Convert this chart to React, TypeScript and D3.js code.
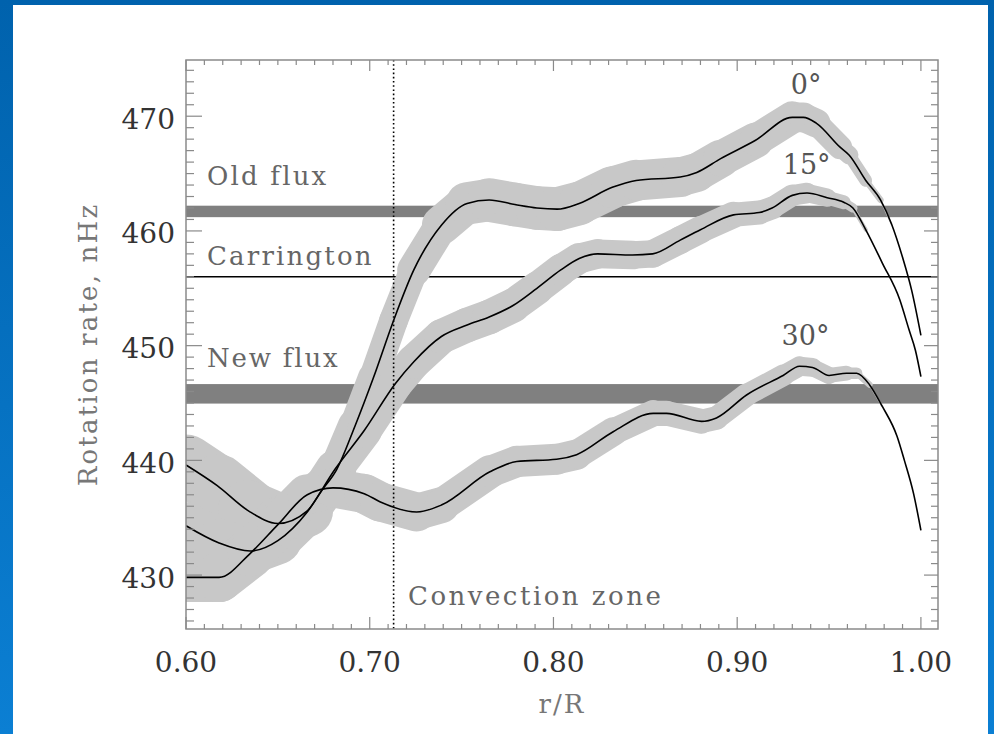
import React from 'react';
import * as d3 from 'd3';

// ---- data ----
const R_0 = [0.600, 0.617, 0.634, 0.650, 0.666, 0.674, 0.682, 0.692, 0.702, 0.713, 0.724, 0.739, 0.753, 0.765, 0.779, 0.791, 0.802, 0.814, 0.832, 0.845, 0.869, 0.878, 0.891, 0.910, 0.930, 0.936, 0.943, 0.956, 0.961, 0.970, 0.978, 0.984, 0.990, 0.995, 1.000];
const V_0 = [439.6, 437.8, 435.6, 434.5, 435.6, 437.4, 439.2, 443.0, 447.2, 452.2, 456.6, 460.5, 462.4, 462.7, 462.3, 462.0, 461.9, 462.4, 463.8, 464.4, 464.7, 465.1, 466.3, 467.9, 469.9, 469.9, 469.4, 467.3, 466.6, 464.4, 462.7, 460.6, 457.7, 454.8, 450.9];
const E_0 = [2.6, 2.7, 2.8, 2.5, 2.0, 1.8, 1.6, 1.4, 1.3, 1.2, 1.3, 1.6, 1.8, 1.9, 1.9, 1.9, 1.9, 1.9, 1.8, 1.8, 1.7, 1.7, 1.6, 1.5, 1.3, 1.3, 1.2, 0.9, 0.7, 0.4, 0.15, 0, 0, 0, 0];

const R_15 = [0.600, 0.618, 0.635, 0.650, 0.666, 0.681, 0.697, 0.714, 0.724, 0.739, 0.753, 0.765, 0.778, 0.791, 0.804, 0.814, 0.824, 0.843, 0.854, 0.869, 0.880, 0.898, 0.912, 0.919, 0.930, 0.938, 0.949, 0.958, 0.963, 0.970, 0.979, 0.9885, 0.9935, 0.997, 1.000];
const V_15 = [434.3, 432.8, 432.1, 433.0, 435.5, 439.2, 442.6, 446.7, 448.6, 450.8, 451.8, 452.5, 453.5, 455.0, 456.6, 457.6, 458.0, 457.9, 458.0, 459.2, 460.1, 461.4, 461.6, 462.0, 463.1, 463.3, 462.9, 462.5, 462.0, 460.1, 457.2, 454.0, 451.4, 449.6, 447.3];
const E_15 = [2.0, 2.1, 2.1, 2.0, 1.8, 1.6, 1.5, 1.5, 1.5, 1.5, 1.5, 1.5, 1.5, 1.4, 1.4, 1.3, 1.3, 1.2, 1.2, 1.2, 1.2, 1.1, 1.0, 1.0, 0.9, 0.9, 0.7, 0.5, 0.3, 0.05, 0, 0, 0, 0, 0];

const R_30 = [0.600, 0.618, 0.635, 0.650, 0.666, 0.680, 0.697, 0.7055, 0.7255, 0.739, 0.7654, 0.780, 0.8017, 0.8126, 0.8325, 0.8543, 0.8615, 0.8806, 0.8887, 0.9051, 0.925, 0.934, 0.941, 0.950, 0.9595, 0.965, 0.972, 0.979, 0.987, 0.991, 0.996, 1.000];
const V_30 = [429.8, 429.8, 431.9, 434.4, 437.0, 437.6, 437.1, 436.4, 435.5, 436.1, 439.0, 439.9, 440.1, 440.5, 442.5, 444.1, 444.1, 443.4, 443.7, 445.7, 447.4, 448.2, 448.1, 447.4, 447.6, 447.6, 446.6, 444.7, 442.1, 440.0, 437.1, 433.9];
const E_30 = [2.1, 2.2, 2.1, 1.9, 1.7, 1.7, 1.7, 1.75, 1.65, 1.5, 1.4, 1.35, 1.35, 1.3, 1.2, 1.1, 1.1, 1.05, 1.0, 1.0, 0.9, 0.85, 0.8, 0.7, 0.6, 0.4, 0.15, 0, 0, 0, 0, 0];

const LATITUDES = ['0°', '15°', '30°'];

const X_TICKS = [0.6, 0.7, 0.8, 0.9, 1.0];
const X_TICK_LABELS = ['0.60', '0.70', '0.80', '0.90', '1.00'];
const Y_TICKS = [430, 440, 450, 460, 470];

const CARRINGTON = 456.0;
const OLD_FLUX = 461.7;
const OLD_FLUX_HALF = 0.5;
const NEW_FLUX = 445.8;
const NEW_FLUX_HALF = 0.85;
const CZ_BASE = 0.713;

const FONT = '"DejaVu Serif", serif';

export default function App() {
  const W = 994, H = 734;
  const L = 186, Rr = 938, T = 60, B = 629;
  const x = d3.scaleLinear().domain([0.6, 1.0093]).range([L, Rr]);
  const y = d3.scaleLinear().domain([425.3, 474.9]).range([B, T]);
  const ppu = y(450) - y(451);

  const series = [
    { r: R_0, v: V_0, e: E_0, label: LATITUDES[0], lab: [0.9375, 471.94] },
    { r: R_15, v: V_15, e: E_15, label: LATITUDES[1], lab: [0.9378, 464.96] },
    { r: R_30, v: V_30, e: E_30, label: LATITUDES[2], lab: [0.9372, 450.06] },
  ];

  const line = d3.line<number>()
    .x((_, i, arr) => 0)
    .curve(d3.curveMonotoneX);

  const pathFor = (s: { r: number[]; v: number[] }) =>
    d3.line<[number, number]>()
      .x((d) => x(d[0]))
      .y((d) => y(d[1]))
      .curve(d3.curveMonotoneX)(s.r.map((r, i) => [r, s.v[i]] as [number, number])) || '';

  const minorX = d3.range(0, 41).map((i) => 0.6 + i * 0.01);
  const minorY = d3.range(426, 475);
  const isMajorX = (v: number) => X_TICKS.some((t) => Math.abs(t - v) < 1e-6);
  const isMajorY = (v: number) => Y_TICKS.includes(v);

  const axisColor = '#8a8a8a';

  return (
    <svg width={W} height={H} style={{ position: 'absolute', left: 0, top: 0, display: 'block' }}>
      <defs>
        <linearGradient id="bg" x1="0" y1="0" x2="0" y2="1">
          <stop offset="0" stopColor="#0062ad" />
          <stop offset="1" stopColor="#0b7fd3" />
        </linearGradient>
        <clipPath id="plot">
          <rect x={L} y={T} width={Rr - L} height={B - T} />
        </clipPath>
      </defs>
      <rect x={0} y={0} width={W} height={H} fill="url(#bg)" />
      <rect x={13} y={5} width={975} height={H - 5} fill="#ffffff" />

      <g clipPath="url(#plot)">
        {/* flux bands */}
        <rect x={L} width={Rr - L} y={y(OLD_FLUX + OLD_FLUX_HALF)} height={y(OLD_FLUX - OLD_FLUX_HALF) - y(OLD_FLUX + OLD_FLUX_HALF)} fill="#808080" />
        <rect x={L} width={Rr - L} y={y(NEW_FLUX + NEW_FLUX_HALF)} height={y(NEW_FLUX - NEW_FLUX_HALF) - y(NEW_FLUX + NEW_FLUX_HALF)} fill="#808080" />
        {/* Carrington */}
        <line x1={L} x2={Rr} y1={y(CARRINGTON)} y2={y(CARRINGTON)} stroke="#000" strokeWidth={1.5} />
        {/* error bands */}
        {series.map((s, si) =>
          s.r.slice(0, -1).map((r, i) => {
            const w = (s.e[i] + s.e[i + 1]) * ppu;
            if (w < 0.5) return null;
            return (
              <line key={`b${si}-${i}`} x1={x(r)} y1={y(s.v[i])} x2={x(s.r[i + 1])} y2={y(s.v[i + 1])}
                stroke="#c8c8c8" strokeWidth={w} strokeLinecap="round" />
            );
          })
        )}
        {/* curves */}
        {series.map((s, si) => (
          <path key={`c${si}`} d={pathFor(s)} fill="none" stroke="#000" strokeWidth={1.6} />
        ))}
        {/* convection zone base */}
        <line x1={x(CZ_BASE)} x2={x(CZ_BASE)} y1={T} y2={B} stroke="#000" strokeWidth={1.6} strokeDasharray="1.6 2.6" />
      </g>

      {/* frame */}
      <rect x={L} y={T} width={Rr - L} height={B - T} fill="none" stroke={axisColor} strokeWidth={1.5} />
      {minorX.map((v, i) => {
        const major = isMajorX(v);
        const px = x(v);
        return (
          <g key={`xt${i}`}>
            <line x1={px} x2={px} y1={B} y2={B - (major ? 12 : 5)} stroke={axisColor} strokeWidth={1.2} />
            <line x1={px} x2={px} y1={T} y2={T + (major ? 11 : 5)} stroke={axisColor} strokeWidth={1.2} />
          </g>
        );
      })}
      {minorY.map((v, i) => {
        const major = isMajorY(v);
        const py = y(v);
        return (
          <g key={`yt${i}`}>
            <line x1={L} x2={L + (major ? 16 : 8)} y1={py} y2={py} stroke={axisColor} strokeWidth={1.2} />
            <line x1={Rr} x2={Rr - (major ? 14 : 7)} y1={py} y2={py} stroke={axisColor} strokeWidth={1.2} />
          </g>
        );
      })}

      {/* tick labels */}
      {X_TICKS.map((v, i) => (
        <text key={`xl${i}`} x={x(v)} y={671.5} textAnchor="middle" fontFamily={FONT} fontSize={28} fill="#333">
          {X_TICK_LABELS[i]}
        </text>
      ))}
      {Y_TICKS.map((v, i) => (
        <text key={`yl${i}`} x={175} y={y(v) + 12.5} textAnchor="end" fontFamily={FONT} fontSize={28} fill="#333">
          {String(v)}
        </text>
      ))}

      {/* axis titles */}
      <text x={(L + Rr) / 2} y={713} textAnchor="middle" fontFamily={FONT} fontSize={26} fill="#777" letterSpacing={2}>
        r/R
      </text>
      <text transform={`translate(97, ${(T + B) / 2}) rotate(-90)`} textAnchor="middle" fontFamily={FONT} fontSize={26} fill="#777" letterSpacing={2.2}>
        Rotation rate, nHz
      </text>

      {/* annotations */}
      <text x={207} y={185} fontFamily={FONT} fontSize={26} fill="#666" letterSpacing={2.2}>Old flux</text>
      <text x={207} y={265} fontFamily={FONT} fontSize={26} fill="#666" letterSpacing={2.2}>Carrington</text>
      <text x={207} y={367} fontFamily={FONT} fontSize={26} fill="#666" letterSpacing={1.8}>New flux</text>
      <text x={408} y={605} fontFamily={FONT} fontSize={26} fill="#666" letterSpacing={2.5}>Convection zone</text>
      {series.map((s, si) => (
        <text key={`lab${si}`} x={x(s.lab[0])} y={y(s.lab[1])} textAnchor="middle" fontFamily={FONT} fontSize={27} fill="#555">
          {s.label}
        </text>
      ))}
    </svg>
  );
}
